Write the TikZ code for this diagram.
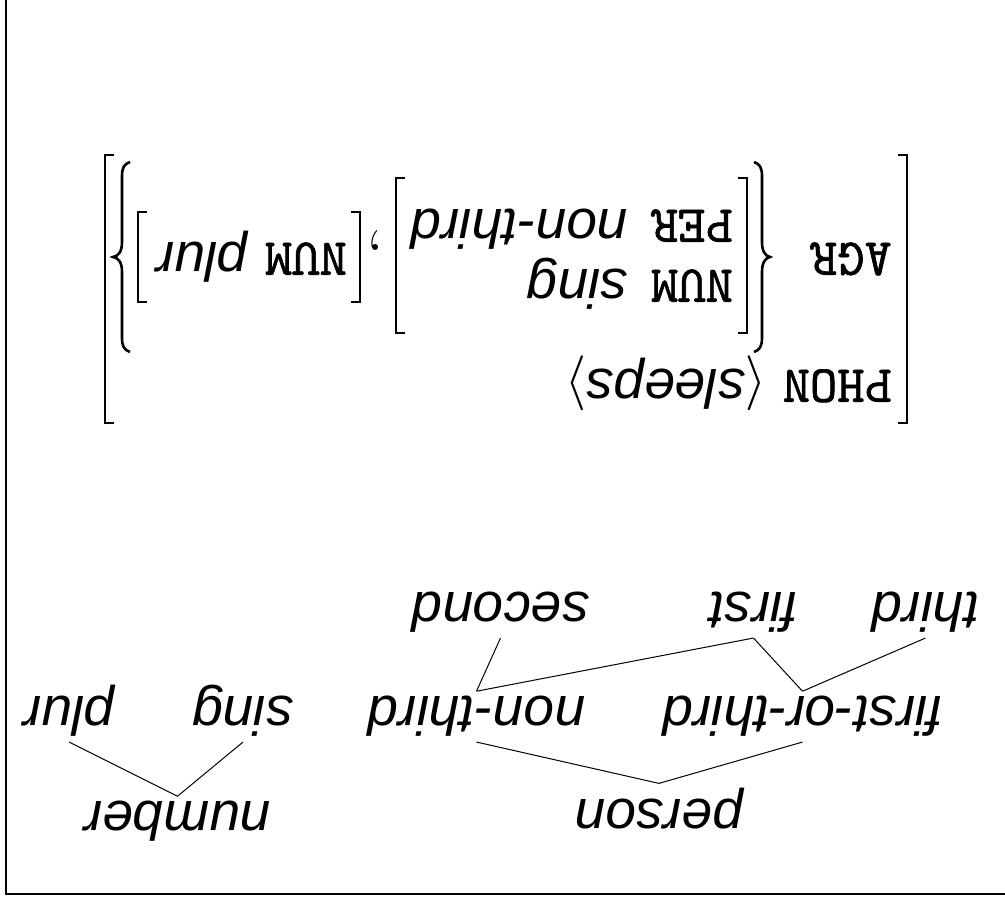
\RequirePackage{fix-cm}
\documentclass[tikz,border=0pt]{standalone}
\usepackage{fontspec}
\newfontfamily\hv{Liberation Sans}
\newfontfamily\avmmono{lmmono10-regular.otf}[FakeBold=1.2]
\begin{document}
\begin{tikzpicture}[x=1pt,y=1pt,
  hier/.style={font=\hv\itshape\fontsize{55}{66}\selectfont, inner sep=5pt, anchor=base},
  val/.style={font=\hv\itshape\fontsize{55}{66}\selectfont, inner sep=0pt, anchor=base west},
  attr/.style={font=\avmmono\fontsize{52}{62}\selectfont, inner sep=0pt, anchor=base west},
  punct/.style={font=\rmfamily\fontsize{72}{80}\selectfont, inner sep=0pt, anchor=base west},
  brk/.style={line width=1.4pt},
  brc/.style={line width=2.6pt},
  conn/.style={line width=1pt},
  frameline/.style={line width=2pt}]
\useasboundingbox (0,0) rectangle (1005,901);
\begin{scope}[rotate around={180:(502.5,450.5)}, transform shape]
  % frame
  \draw[frameline] (0,894) -- (999,894) -- (999,0);
  % ---------- AVM ----------
  \node[attr] (phon) at (113,370) {PHON};
  \node[val] (sleeps) at (238,370) {$\langle$sleeps$\rangle$};
  \node[attr] (agr) at (113,243) {AGR};
  \node[attr] (num1) at (272,270) {NUM};
  \node[val] (sing1) at (377,270) {sing};
  \node[attr] (per) at (272,210) {PER};
  \node[val] (nonthird1) at (377,210) {non-third};
  \node[punct] (comma) at (620,245) {,};
  \node[attr] (num2) at (658,243) {NUM};
  \node[val] (plur1) at (757,243) {plur};
  % outer brackets
  \draw[brk] (107,423) -- (98,423) -- (98,155) -- (107,155);
  \draw[brk] (891,423) -- (900,423) -- (900,155) -- (891,155);
  % inner brackets
  \draw[brk] (267,333) -- (258,333) -- (258,178) -- (267,178);
  \draw[brk] (600,333) -- (609,333) -- (609,178) -- (600,178);
  \draw[brk] (654,302) -- (645,302) -- (645,212) -- (654,212);
  \draw[brk] (858,302) -- (867,302) -- (867,212) -- (858,212);
  % braces
  \draw[brc] (251,352) .. controls (245,350) and (243,346) .. (243,338) -- (243,272)
     .. controls (243,263) and (240,258) .. (235,257)
     .. controls (240,256) and (243,251) .. (243,242) -- (243,176)
     .. controls (243,168) and (245,164) .. (251,162);
  \draw[brc] (875,352) .. controls (881,350) and (883,346) .. (883,338) -- (883,272)
     .. controls (883,263) and (886,258) .. (892,257)
     .. controls (886,256) and (883,251) .. (883,242) -- (883,176)
     .. controls (883,168) and (881,164) .. (875,162);
  % ---------- hierarchy ----------
  \node[hier] (number) at (827.5,802) {number};
  \node[hier] (person) at (346,800) {person};
  \node[hier] (plur) at (936,697) {plur};
  \node[hier] (sing) at (762,697) {sing};
  \node[hier] (nonthird) at (528.5,697) {non-third};
  \node[hier] (foth) at (202.5,697) {first-or-third};
  \node[hier] (second) at (504.5,593) {second};
  \node[hier] (first) at (251.5,593) {first};
  \node[hier] (third) at (79.5,593) {third};
  \draw[conn] (number.south) -- (plur.north);
  \draw[conn] (number.south) -- (sing.north);
  \draw[conn] (person.south) -- (nonthird.north);
  \draw[conn] (person.south) -- (foth.north);
  \draw[conn] (nonthird.south) -- (second.north);
  \draw[conn] (nonthird.south) -- (first.north);
  \draw[conn] (foth.south) -- (first.north);
  \draw[conn] (foth.south) -- (third.north);
\end{scope}
\end{tikzpicture}
\end{document}
